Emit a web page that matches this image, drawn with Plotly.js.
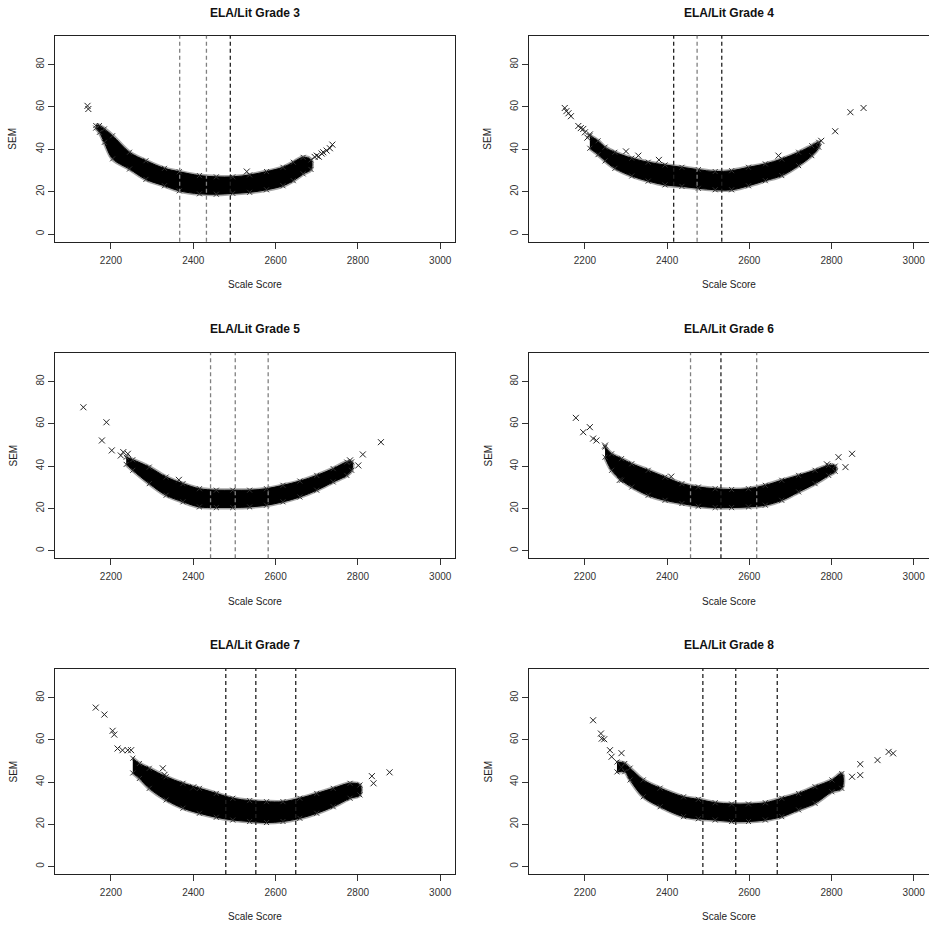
<!DOCTYPE html>
<html>
<head>
<meta charset="utf-8">
<script src="https://cdn.plot.ly/plotly-3.0.1.min.js"></script>
<style>html,body{margin:0;padding:0;background:#fff;}#chart{width:929px;height:925px;}</style>
</head>
<body>
<div id="chart"></div>
<script>
// ---------- DATA ----------
const gradeTitles = ["ELA/Lit Grade 3","ELA/Lit Grade 4","ELA/Lit Grade 5","ELA/Lit Grade 6","ELA/Lit Grade 7","ELA/Lit Grade 8"];
const xTicks = [2200, 2400, 2600, 2800, 3000];
const yTicks = [0, 20, 40, 60, 80];

// cut scores (vertical dashed lines)
const cuts3 = [2367, 2432, 2490];
const cuts4 = [2416, 2473, 2533];
const cuts5 = [2442, 2502, 2582];
const cuts6 = [2457, 2531, 2618];
const cuts7 = [2479, 2552, 2649];
const cuts8 = [2487, 2567, 2668];

// dense band of points: scale score, upper SEM edge, lower SEM edge
const bandX3  = [2163, 2172, 2184, 2204, 2245, 2285, 2330, 2366, 2415, 2456, 2496, 2537, 2578, 2618, 2643, 2667, 2686];
const bandUp3 = [51.2, 51.2, 49.6, 46.4, 38.6, 34.6, 31.0, 29.4, 27.6, 27.0, 27.0, 27.9, 29.5, 31.5, 33.9, 36.2, 35.0];
const bandLo3 = [50.0, 48.0, 43.3, 35.5, 30.7, 25.8, 22.8, 20.4, 19.0, 18.8, 19.2, 19.7, 20.9, 22.8, 25.2, 28.4, 30.5];
const outX3 = [2143, 2145, 2530, 2695, 2700, 2705, 2712, 2716, 2724, 2732, 2738];
const outY3 = [60.5, 59.0, 29.5, 36.4, 37.0, 36.5, 38.0, 38.6, 39.4, 40.5, 42.2];

const bandX4  = [2212, 2232, 2249, 2273, 2314, 2354, 2395, 2436, 2476, 2517, 2557, 2598, 2639, 2679, 2720, 2752, 2769];
const bandUp4 = [46.4, 44.0, 41.0, 38.6, 35.8, 33.9, 32.6, 31.5, 30.4, 29.5, 29.9, 31.5, 33.1, 35.4, 38.6, 41.7, 43.3];
const bandLo4 = [40.5, 37.5, 34.5, 31.0, 27.4, 25.0, 23.2, 22.5, 21.6, 20.9, 20.9, 22.8, 25.2, 27.6, 32.3, 37.0, 41.0];
const outX4 = [2151, 2155, 2160, 2166, 2184, 2190, 2196, 2200, 2206, 2212, 2300, 2330, 2380, 2671, 2775, 2809, 2846, 2878];
const outY4 = [59.5, 58.0, 57.0, 55.6, 51.0, 50.0, 49.6, 48.0, 45.5, 47.0, 39.0, 37.0, 35.0, 37.0, 44.0, 48.5, 57.5, 59.5];

const bandX5  = [2237, 2253, 2293, 2334, 2375, 2415, 2456, 2496, 2537, 2578, 2618, 2659, 2700, 2740, 2773, 2785];
const bandUp5 = [44.2, 43.0, 39.5, 34.8, 31.7, 29.3, 28.6, 28.6, 28.6, 29.3, 30.9, 32.9, 35.6, 38.8, 41.9, 42.0];
const bandLo5 = [40.8, 38.0, 31.7, 26.2, 23.1, 20.7, 20.4, 20.4, 20.7, 21.5, 23.1, 25.4, 28.6, 32.5, 35.6, 38.0];
const outX5 = [2133, 2189, 2178, 2202, 2224, 2230, 2241, 2365, 2781, 2801, 2812, 2856];
const outY5 = [67.8, 60.7, 52.1, 47.4, 45.0, 46.6, 45.8, 33.5, 42.7, 40.3, 45.5, 51.3];

const bandX6  = [2249, 2265, 2289, 2314, 2354, 2395, 2436, 2476, 2517, 2557, 2598, 2639, 2679, 2720, 2760, 2793, 2809];
const bandUp6 = [49.0, 45.8, 43.5, 41.1, 38.0, 34.8, 31.7, 30.1, 29.3, 28.9, 29.3, 30.9, 33.3, 35.6, 38.0, 40.3, 40.0];
const bandLo6 = [44.2, 38.0, 33.3, 30.1, 26.2, 23.8, 22.3, 21.0, 20.4, 20.4, 20.7, 21.5, 23.8, 27.8, 31.7, 35.6, 37.5];
const outX6 = [2178, 2196, 2212, 2220, 2228, 2249, 2285, 2410, 2789, 2817, 2834, 2850];
const outY6 = [62.8, 56.0, 58.4, 53.0, 52.1, 49.7, 33.5, 35.0, 40.8, 44.2, 39.5, 45.8];

const bandX7  = [2253, 2269, 2293, 2334, 2375, 2415, 2456, 2496, 2537, 2578, 2618, 2659, 2700, 2740, 2781, 2805];
const bandUp7 = [51.3, 48.8, 46.5, 42.5, 39.4, 37.0, 34.6, 32.3, 31.2, 30.7, 30.7, 32.3, 34.6, 37.0, 39.4, 38.6];
const bandLo7 = [44.3, 41.7, 37.0, 31.5, 27.6, 25.2, 23.3, 22.0, 21.3, 20.8, 21.3, 22.8, 25.2, 28.3, 32.3, 33.9];
const outX7 = [2163, 2184, 2204, 2208, 2216, 2228, 2241, 2249, 2326, 2330, 2400, 2834, 2838, 2877];
const outY7 = [75.3, 72.0, 64.3, 62.5, 55.9, 55.1, 55.1, 55.1, 46.5, 43.4, 37.5, 42.8, 39.4, 44.6];

const bandX8  = [2278, 2297, 2310, 2342, 2383, 2440, 2476, 2517, 2557, 2598, 2639, 2679, 2720, 2760, 2801, 2825];
const bandUp8 = [49.5, 48.8, 46.6, 41.0, 37.1, 33.0, 31.8, 30.2, 29.6, 29.6, 30.2, 32.3, 34.6, 37.8, 41.0, 44.0];
const bandLo8 = [44.8, 44.9, 41.0, 33.0, 28.3, 23.6, 22.6, 22.0, 21.3, 21.3, 22.0, 23.6, 26.8, 29.9, 35.4, 37.0];
const outX8 = [2220, 2239, 2241, 2247, 2261, 2265, 2289, 2289, 2850, 2870, 2870, 2912, 2939, 2950];
const outY8 = [69.3, 63.0, 60.6, 60.3, 55.1, 52.0, 53.7, 47.0, 42.5, 43.3, 48.5, 50.4, 54.3, 53.6];

// ---------- STYLE / LAYOUT ----------
const panels = [
  {band:[bandX3,bandUp3,bandLo3], out:[outX3,outY3], cuts:cuts3},
  {band:[bandX4,bandUp4,bandLo4], out:[outX4,outY4], cuts:cuts4},
  {band:[bandX5,bandUp5,bandLo5], out:[outX5,outY5], cuts:cuts5},
  {band:[bandX6,bandUp6,bandLo6], out:[outX6,outY6], cuts:cuts6},
  {band:[bandX7,bandUp7,bandLo7], out:[outX7,outY7], cuts:cuts7},
  {band:[bandX8,bandUp8,bandLo8], out:[outX8,outY8], cuts:cuts8}
];
const cutColors = [
  ['#808080','#808080','#222'],
  ['#222','#808080','#222'],
  ['#808080','#808080','#808080'],
  ['#808080','#222','#808080'],
  ['#222','#222','#222'],
  ['#222','#222','#222']
];
const W = 929, H = 925;
const colPx = [[55, 455], [529, 928.5]];
const rowPx = [[35.7, 241.7], [352.7, 558.3], [669, 874]];
const titleY = [13, 329, 645];
const xlabY = [284, 601, 916];
const semX = [13, 488];
const FONT = 'Liberation Sans, Arial, sans-serif';

const traces = [];
const layout = {
  width: W, height: H,
  margin: {l:0, r:0, t:0, b:0},
  paper_bgcolor: '#fff', plot_bgcolor: '#fff',
  showlegend: false,
  font: {family: FONT, size: 10, color: '#222'},
  shapes: [], annotations: []
};

panels.forEach((p, i) => {
  const k = i + 1;
  const col = i % 2, row = Math.floor(i / 2);
  const xa = 'x' + (k === 1 ? '' : k), ya = 'y' + (k === 1 ? '' : k);
  const xName = 'xaxis' + (k === 1 ? '' : k), yName = 'yaxis' + (k === 1 ? '' : k);
  const [bx, bu, bl] = p.band;
  const polyX = bx.concat(bx.slice().reverse());
  const polyY = bu.concat(bl.slice().reverse());

  // soft halo around the dense band
  traces.push({
    type: 'scatter', mode: 'lines', xaxis: xa, yaxis: ya,
    x: polyX, y: polyY,
    line: {color: 'rgba(0,0,0,0.35)', width: 4, shape: 'spline'},
    hoverinfo: 'skip'
  });
  // filled band
  traces.push({
    type: 'scatter', mode: 'lines', xaxis: xa, yaxis: ya,
    x: polyX, y: polyY,
    fill: 'toself', fillcolor: '#000',
    line: {color: '#000', width: 1, shape: 'spline'},
    hoverinfo: 'skip'
  });
  // edge points
  traces.push({
    type: 'scatter', mode: 'markers', xaxis: xa, yaxis: ya,
    x: bx.concat(bx), y: bu.concat(bl),
    marker: {symbol: 'x-thin-open', size: 5, color: '#333', line: {color: '#333', width: 1}}
  });
  // sparse points
  traces.push({
    type: 'scatter', mode: 'markers', xaxis: xa, yaxis: ya,
    x: p.out[0], y: p.out[1],
    marker: {symbol: 'x-thin-open', size: 6, color: '#222', line: {color: '#222', width: 1}}
  });

  layout[xName] = {
    domain: [colPx[col][0] / W, colPx[col][1] / W],
    anchor: ya, range: [2064, 3036],
    tickmode: 'array', tickvals: xTicks, ticktext: xTicks.map(String),
    ticks: 'outside', ticklen: 6, tickwidth: 1, tickcolor: '#333',
    ticklabelstandoff: 3,
    showline: true, mirror: true, linecolor: '#222', linewidth: 1,
    showgrid: false, zeroline: false,
    tickfont: {family: FONT, size: 10, color: '#333'}
  };
  layout[yName] = {
    domain: [1 - rowPx[row][1] / H, 1 - rowPx[row][0] / H],
    anchor: xa, range: [-3.6, 93.6],
    tickmode: 'array', tickvals: yTicks, ticktext: yTicks.map(String),
    tickangle: -90,
    ticks: 'outside', ticklen: 6, tickwidth: 1, tickcolor: '#333',
    showline: true, mirror: true, linecolor: '#222', linewidth: 1,
    showgrid: false, zeroline: false,
    tickfont: {family: FONT, size: 10, color: '#333'}
  };

  p.cuts.forEach((c, j) => {
    layout.shapes.push({
      type: 'line', xref: xa, yref: ya + ' domain',
      x0: c, x1: c, y0: 0, y1: 1,
      line: {color: cutColors[i][j], width: 1.3, dash: '4px,3px'}
    });
  });

  const cx = (colPx[col][0] + colPx[col][1]) / 2 / W;
  layout.annotations.push({
    xref: 'paper', yref: 'paper', x: cx, y: 1 - titleY[row] / H,
    xanchor: 'center', yanchor: 'middle', showarrow: false,
    text: '<b>' + gradeTitles[i] + '</b>',
    font: {family: FONT, size: 12, color: '#111'}
  });
  layout.annotations.push({
    xref: 'paper', yref: 'paper', x: cx, y: 1 - xlabY[row] / H,
    xanchor: 'center', yanchor: 'middle', showarrow: false,
    text: 'Scale Score',
    font: {family: FONT, size: 10, color: '#222'}
  });
  layout.annotations.push({
    xref: 'paper', yref: 'paper', x: semX[col] / W,
    y: 1 - (rowPx[row][0] + rowPx[row][1]) / 2 / H,
    xanchor: 'center', yanchor: 'middle', showarrow: false,
    text: 'SEM', textangle: -90,
    font: {family: FONT, size: 10, color: '#222'}
  });
});

Plotly.newPlot('chart', traces, layout, {staticPlot: true, displayModeBar: false});
</script>
</body>
</html>
